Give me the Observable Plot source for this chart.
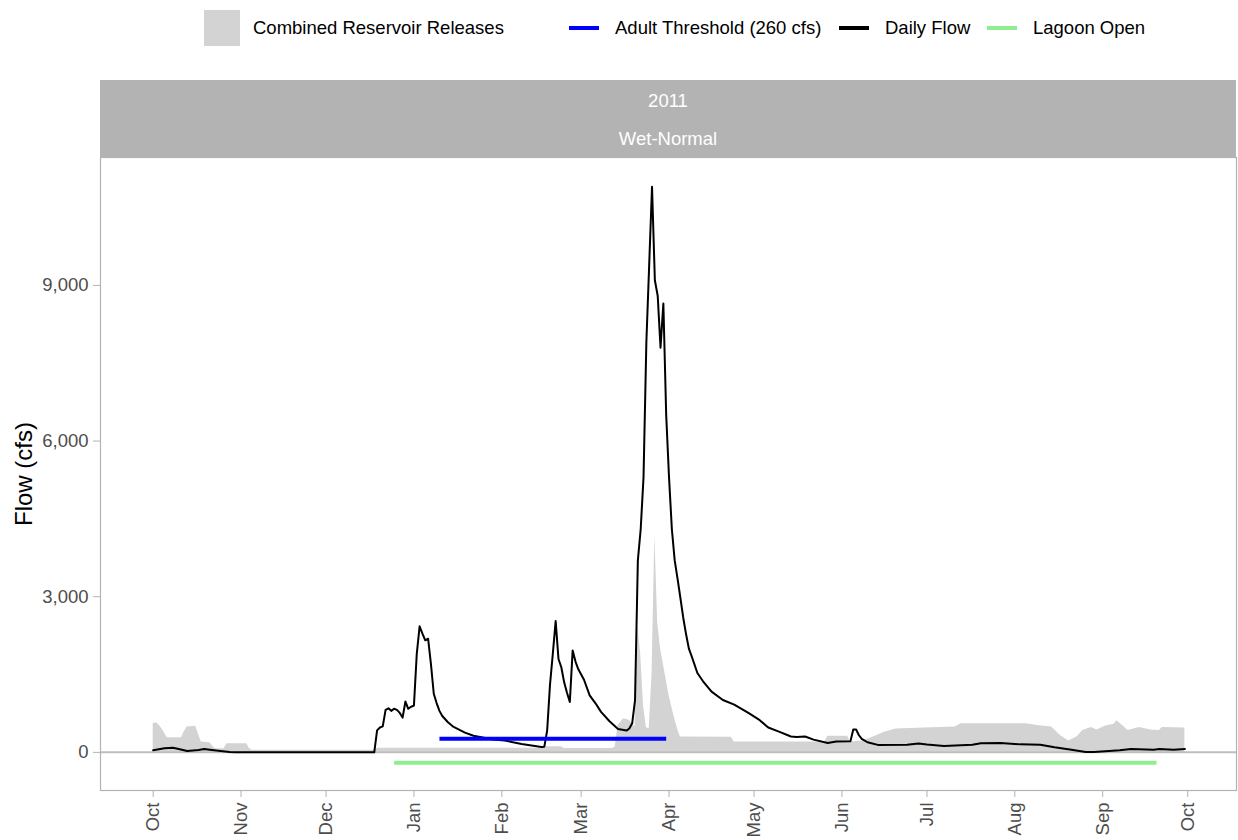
<!DOCTYPE html>
<html>
<head>
<meta charset="utf-8">
<script src="https://cdn.jsdelivr.net/npm/d3@7"></script>
<script src="https://cdn.jsdelivr.net/npm/@observablehq/plot@0.6"></script>
<style>
  body { margin: 0; background: #fff; font-family: "Liberation Sans", Arial, sans-serif; }
  #wrap { position: relative; width: 1238px; height: 840px; overflow: hidden; background: #fff; }
  .lg { position: absolute; top: 10px; height: 36px; display: flex; align-items: center; font-size: 18.5px; color: #000; white-space: nowrap; }
  .key-fill { width: 36px; height: 36px; margin-right: 13px; }
  .key-line { width: 30px; height: 4px; margin-right: 16px; }
  #strip { position: absolute; left: 100px; top: 80px; width: 1136px; height: 77px; background: #B3B3B3; color: #fff; font-size: 18.5px; }
  #strip div { position: absolute; left: 0; width: 100%; text-align: center; line-height: 22px; }
  #chart { position: absolute; left: 0; top: 157px; }
</style>
</head>
<body>
<div id="wrap">
  <div id="legend"></div>
  <div id="strip"></div>
  <div id="chart"></div>
</div>
<script>
// ---------------- DATA ----------------
const flowDates = [
  "2010-10-01","2010-10-03","2010-10-05","2010-10-08","2010-10-10","2010-10-13","2010-10-15","2010-10-17","2010-10-19","2010-10-21","2010-10-24","2010-10-28","2010-10-30","2010-12-18",
  "2010-12-19","2010-12-20","2010-12-21","2010-12-22","2010-12-23","2010-12-24","2010-12-25","2010-12-26","2010-12-27","2010-12-28","2010-12-29","2010-12-30","2010-12-31",
  "2011-01-01","2011-01-02","2011-01-03","2011-01-04","2011-01-05","2011-01-06","2011-01-07","2011-01-08","2011-01-09","2011-01-10","2011-01-11","2011-01-13","2011-01-15","2011-01-19","2011-01-22","2011-01-29",
  "2011-02-02","2011-02-08","2011-02-15","2011-02-16","2011-02-17","2011-02-18","2011-02-19","2011-02-20","2011-02-21","2011-02-22","2011-02-23","2011-02-24","2011-02-25","2011-02-26","2011-02-27","2011-02-28",
  "2011-03-01","2011-03-02","2011-03-04","2011-03-06","2011-03-08","2011-03-11","2011-03-14","2011-03-16","2011-03-17","2011-03-18","2011-03-19","2011-03-20","2011-03-21","2011-03-22","2011-03-23","2011-03-24","2011-03-25","2011-03-26","2011-03-27","2011-03-28","2011-03-29","2011-03-30","2011-03-31",
  "2011-04-01","2011-04-02","2011-04-03","2011-04-04","2011-04-05","2011-04-06","2011-04-07","2011-04-08","2011-04-09","2011-04-11","2011-04-13","2011-04-16","2011-04-20","2011-04-24","2011-04-29",
  "2011-05-03","2011-05-06","2011-05-10","2011-05-14","2011-05-16","2011-05-19","2011-05-22","2011-05-27","2011-05-30",
  "2011-06-04","2011-06-05","2011-06-06","2011-06-07","2011-06-08","2011-06-10","2011-06-14","2011-06-24","2011-06-28",
  "2011-07-01","2011-07-07","2011-07-17","2011-07-20","2011-07-27",
  "2011-08-03","2011-08-10","2011-08-15","2011-08-21","2011-08-26","2011-08-29",
  "2011-09-07","2011-09-11","2011-09-19","2011-09-21","2011-09-26","2011-09-30"
];
const flowCfs = [
  40,60,80,90,65,25,35,45,65,50,30,8,0,0,
  424,480,500,820,850,800,840,820,760,670,980,840,880,
  900,1900,2430,2290,2160,2190,1700,1130,950,800,700,580,490,380,320,250,
  230,160,105,110,420,1300,1900,2530,1800,1640,1350,1150,970,1965,1750,1600,
  1500,1400,1100,950,780,600,450,430,420,460,560,1000,3700,4300,5300,7900,9400,10900,9100,8800,7800,8650,6500,
  5300,4300,3700,3350,2980,2600,2280,2000,1850,1530,1370,1170,1010,920,760,
  620,480,395,305,295,305,245,180,210,
  212,440,440,330,260,195,140,148,170,
  150,121,148,175,179,
  154,148,100,50,8,8,
  40,64,52,64,52,64
];

const releaseDates = [
  "2010-10-01","2010-10-02","2010-10-03","2010-10-04","2010-10-06","2010-10-11","2010-10-12","2010-10-13","2010-10-16","2010-10-17","2010-10-18","2010-10-21","2010-10-22","2010-10-23","2010-10-26","2010-10-27","2010-11-03","2010-11-04","2010-11-05","2010-12-18","2010-12-19",
  "2011-02-15","2011-02-16","2011-02-22","2011-02-23","2011-03-12","2011-03-13","2011-03-14","2011-03-16","2011-03-18","2011-03-20","2011-03-21","2011-03-22","2011-03-23","2011-03-24","2011-03-25","2011-03-26","2011-03-27","2011-03-28","2011-03-29","2011-03-30","2011-03-31",
  "2011-04-01","2011-04-02","2011-04-03","2011-04-04","2011-04-05","2011-04-23","2011-04-24","2011-05-26","2011-05-27","2011-06-03","2011-06-04","2011-06-08","2011-06-11","2011-06-16","2011-06-20","2011-06-30",
  "2011-07-11","2011-07-13","2011-08-05","2011-08-09","2011-08-14","2011-08-17","2011-08-20","2011-08-23","2011-08-25","2011-08-28","2011-08-30",
  "2011-09-02","2011-09-05","2011-09-06","2011-09-08","2011-09-10","2011-09-14","2011-09-18","2011-09-21","2011-09-22","2011-09-30"
];
const releaseCfs = [
  553,572,530,460,283,283,400,488,501,350,198,187,120,71,71,168,168,71,40,40,80,
  80,110,110,75,75,100,520,650,620,490,2420,1900,900,480,450,1500,4180,2500,2000,1700,1400,
  1100,870,650,450,295,290,200,200,310,310,200,220,270,390,450,470,
  490,550,550,520,490,330,220,300,420,480,430,
  510,540,610,520,420,480,430,420,480,470
];

const thresholdCfs = 260;
const thresholdDates = ["2011-01-10", "2011-03-31"];
const lagoonCfs = -200;
const lagoonDates = ["2010-12-25", "2011-09-20"];

const yTicks = [0, 3000, 6000, 9000];
const monthTicks = ["2010-10-01","2010-11-01","2010-12-01","2011-01-01","2011-02-01","2011-03-01","2011-04-01","2011-05-01","2011-06-01","2011-07-01","2011-08-01","2011-09-01","2011-10-01"];
const stripLabels = ["2011", "Wet-Normal"];
const yLabel = "Flow (cfs)";
const legendLabels = ["Combined Reservoir Releases", "Adult Threshold (260 cfs)", "Daily Flow", "Lagoon Open"];

// ---------------- STYLE / LAYOUT ----------------
const colors = { release: "#D3D3D3", threshold: "#0000FF", flow: "#000000", lagoon: "#90EE90", zero: "#BEBEBE", axis: "#B3B3B3", tickText: "#4D4D4D" };
const legendKinds = ["fill", "line", "line", "line"];
const legendColors = [colors.release, colors.threshold, colors.flow, colors.lagoon];
const legendLeft = [204, 569, 839, 987];
const stripTextTop = [10, 48];
const xDomain = [new Date("2010-09-12T10:00Z"), new Date("2011-10-18T05:00Z")];
const yDomain = [-735, 11465];

// ---------------- TABLES ----------------
const flow = flowDates.map((d, i) => ({ date: new Date(d), value: flowCfs[i] }));
const releases = releaseDates.map((d, i) => ({ date: new Date(d), value: releaseCfs[i] }));
const threshold = thresholdDates.map(d => ({ date: new Date(d), value: thresholdCfs }));
const lagoon = lagoonDates.map(d => ({ date: new Date(d), value: lagoonCfs }));
const monthTickDates = monthTicks.map(d => new Date(d));

// ---------------- LEGEND ----------------
const legend = document.getElementById("legend");
legendLabels.forEach((lab, i) => {
  const item = document.createElement("div");
  item.className = "lg";
  item.style.left = legendLeft[i] + "px";
  const key = document.createElement("span");
  key.className = legendKinds[i] === "fill" ? "key-fill" : "key-line";
  key.style.background = legendColors[i];
  const txt = document.createElement("span");
  txt.textContent = lab;
  item.appendChild(key);
  item.appendChild(txt);
  legend.appendChild(item);
});

// ---------------- STRIP ----------------
const strip = document.getElementById("strip");
stripLabels.forEach((lab, i) => {
  const d = document.createElement("div");
  d.style.top = stripTextTop[i] + "px";
  d.textContent = lab;
  strip.appendChild(d);
});

// ---------------- PLOT ----------------
const chart = Plot.plot({
  width: 1238,
  height: 683,
  marginTop: 0,
  marginBottom: 50,
  marginLeft: 100,
  marginRight: 2,
  style: { fontFamily: "'Liberation Sans', Arial, sans-serif", fontSize: "18.5px", background: "white", overflow: "visible" },
  x: { type: "utc", domain: xDomain },
  y: { domain: yDomain },
  marks: [
    Plot.areaY(releases, { x: "date", y: "value", fill: colors.release }),
    Plot.ruleY([0], { stroke: colors.zero, strokeWidth: 2 }),
    Plot.lineY(flow, { x: "date", y: "value", stroke: colors.flow, strokeWidth: 2, strokeLinejoin: "round" }),
    Plot.lineY(threshold, { x: "date", y: "value", stroke: colors.threshold, strokeWidth: 4, strokeLinecap: "butt" }),
    Plot.lineY(lagoon, { x: "date", y: "value", stroke: colors.lagoon, strokeWidth: 4, strokeLinecap: "butt" }),
    Plot.frame({ stroke: colors.axis, strokeWidth: 1.2 }),
    Plot.axisY(yTicks, { tickFormat: d3.format(","), tickSize: 7, tickPadding: 5, fontSize: 18.5, stroke: colors.axis, fill: colors.tickText, label: null }),
    Plot.axisX(monthTickDates, { tickFormat: d3.utcFormat("%b"), tickRotate: -90, tickSize: 7, tickPadding: 5, fontSize: 18.5, stroke: colors.axis, fill: colors.tickText, label: null }),
    Plot.text([yLabel], { frameAnchor: "left", textAnchor: "middle", dx: -76, rotate: -90, fontSize: 24, fill: "#000" })
  ]
});
document.getElementById("chart").appendChild(chart);
</script>
</body>
</html>
